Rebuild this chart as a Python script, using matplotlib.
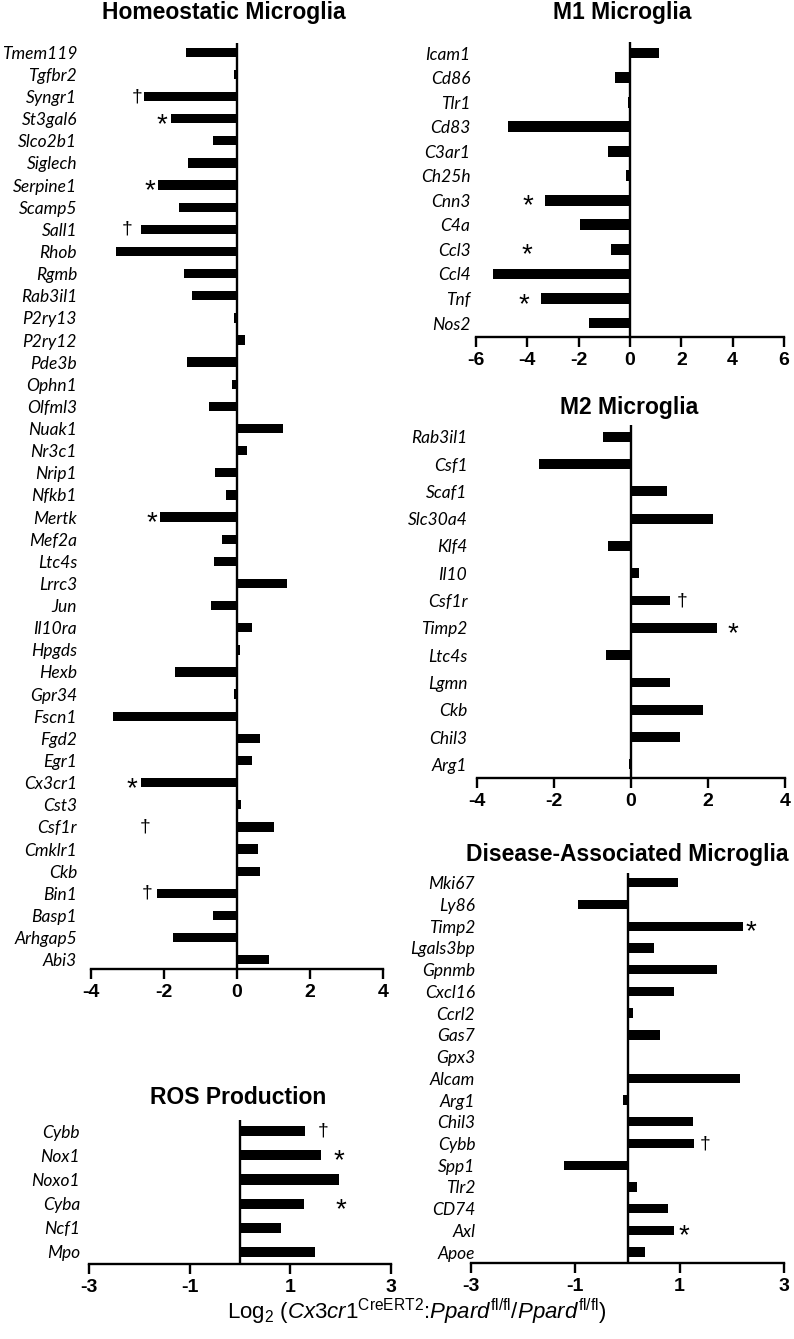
import matplotlib
matplotlib.use("Agg")
import matplotlib.pyplot as plt
import numpy as np

plt.rcParams["axes.unicode_minus"] = False
plt.rcParams["mathtext.fontset"] = "custom"
plt.rcParams["mathtext.rm"] = "Liberation Sans"
plt.rcParams["mathtext.it"] = "Liberation Sans:italic"
plt.rcParams["mathtext.bf"] = "Liberation Sans:bold"

# ---- data (log2 fold change) ----
homeo_genes = ["Tmem119", "Tgfbr2", "Syngr1", "St3gal6", "Slco2b1", "Siglech", "Serpine1",
               "Scamp5", "Sall1", "Rhob", "Rgmb", "Rab3il1", "P2ry13", "P2ry12", "Pde3b",
               "Ophn1", "Olfml3", "Nuak1", "Nr3c1", "Nrip1", "Nfkb1", "Mertk", "Mef2a",
               "Ltc4s", "Lrrc3", "Jun", "Il10ra", "Hpgds", "Hexb", "Gpr34", "Fscn1", "Fgd2",
               "Egr1", "Cx3cr1", "Cst3", "Csf1r", "Cmklr1", "Ckb", "Bin1", "Basp1",
               "Arhgap5", "Abi3"]
homeo_vals = [-1.39, -0.09, -2.56, -1.80, -0.67, -1.33, -2.16,
              -1.59, -2.64, -3.32, -1.45, -1.23, -0.09, 0.21, -1.36,
              -0.15, -0.77, 1.27, 0.27, -0.60, -0.31, -2.10, -0.40,
              -0.63, 1.38, -0.72, 0.41, 0.07, -1.71, -0.07, -3.41, 0.62,
              0.41, -2.62, 0.10, 1.00, 0.58, 0.62, -2.18, -0.67,
              -1.74, 0.87]
homeo_marks = [("Syngr1", "†", -2.73), ("St3gal6", "*", -2.07), ("Serpine1", "*", -2.39),
               ("Sall1", "†", -3.0), ("Mertk", "*", -2.32), ("Cx3cr1", "*", -2.87),
               ("Csf1r", "†", -2.52), ("Bin1", "†", -2.47)]

m1_genes = ["Icam1", "Cd86", "Tlr1", "Cd83", "C3ar1", "Ch25h", "Cnn3", "C4a", "Ccl3",
            "Ccl4", "Tnf", "Nos2"]
m1_vals = [1.14, -0.58, -0.09, -4.76, -0.86, -0.14, -3.31, -1.95, -0.75, -5.32, -3.47, -1.61]
m1_marks = [("Cnn3", "*", -3.96), ("Ccl3", "*", -4.02), ("Tnf", "*", -4.12)]

m2_genes = ["Rab3il1", "Csf1", "Scaf1", "Slc30a4", "Klf4", "Il10", "Csf1r", "Timp2",
            "Ltc4s", "Lgmn", "Ckb", "Chil3", "Arg1"]
m2_vals = [-0.72, -2.38, 0.93, 2.14, -0.59, 0.22, 1.00, 2.23, -0.65, 1.00, 1.88, 1.28, -0.06]
m2_marks = [("Csf1r", "†", 1.32), ("Timp2", "*", 2.64)]

dam_genes = ["Mki67", "Ly86", "Timp2", "Lgals3bp", "Gpnmb", "Cxcl16", "Ccrl2", "Gas7",
             "Gpx3", "Alcam", "Arg1", "Chil3", "Cybb", "Spp1", "Tlr2", "CD74", "Axl", "Apoe"]
dam_vals = [0.96, -0.95, 2.21, 0.50, 1.71, 0.89, 0.10, 0.63,
            0.03, 2.16, -0.08, 1.26, 1.28, -1.21, 0.19, 0.77, 0.89, 0.33]
dam_marks = [("Timp2", "*", 2.36), ("Cybb", "†", 1.49), ("Axl", "*", 1.09)]

ros_genes = ["Cybb", "Nox1", "Noxo1", "Cyba", "Ncf1", "Mpo"]
ros_vals = [1.30, 1.60, 1.97, 1.28, 0.81, 1.49]
ros_marks = [("Cybb", "†", 1.65), ("Nox1", "*", 1.96), ("Cyba", "*", 2.0)]

W, H = 794, 1339
fig = plt.figure(figsize=(W / 100, H / 100), dpi=100)


def panel(box, genes, vals, marks, xlim, xticks, pad, bar_h, margins):
    left, top, right, bottom = box
    ax = fig.add_axes([left / W, 1 - bottom / H, (right - left) / W, (bottom - top) / H])
    y = np.arange(len(genes))
    ax.barh(y, vals, height=bar_h, color="black", zorder=2)
    ax.set_ylim(len(genes) - 1 + margins[1], -margins[0])
    ax.set_xlim(*xlim)
    ax.axvline(0, color="black", lw=1.7, zorder=3)
    for side in ["left", "right", "top"]:
        ax.spines[side].set_visible(False)
    ax.spines["bottom"].set_linewidth(1.7)
    ax.set_yticks(y)
    ax.set_yticklabels(genes, fontstyle="italic", family="Lato", fontsize=12.5)
    ax.tick_params(axis="y", length=0, pad=pad)
    ax.set_xticks(xticks)
    ax.set_xticklabels([str(t) for t in xticks], fontweight="bold",
                       family="Liberation Sans", fontsize=14)
    ax.tick_params(axis="x", direction="out", length=7, width=1.7, pad=4)
    for gene, sym, xm in marks:
        if sym == "*":
            ax.annotate(sym, (xm, genes.index(gene)), xytext=(0, -4.5),
                        textcoords="offset points", ha="center", va="center",
                        fontsize=20, family="Liberation Sans")
        else:
            ax.annotate(sym, (xm, genes.index(gene)), xytext=(0, 0),
                        textcoords="offset points", ha="center", va="center",
                        fontsize=14, family="Liberation Sans")
    return ax


panel((91, 43, 383, 969), homeo_genes, homeo_vals, homeo_marks,
      (-4, 4), [-4, -2, 0, 2, 4], 10, 0.42, (0.42, 0.42))
panel((476, 42, 784, 337), m1_genes, m1_vals, m1_marks,
      (-6, 6), [-6, -4, -2, 0, 2, 4, 6], 4, 0.44, (0.45, 0.57))
panel((477, 425, 785, 778), m2_genes, m2_vals, m2_marks,
      (-4, 4), [-4, -2, 0, 2, 4], 7, 0.36, (0.43, 0.5))
panel((471, 873, 784, 1263), dam_genes, dam_vals, dam_marks,
      (-3, 3), [-3, -1, 1, 3], -3, 0.43, (0.45, 0.5))
panel((89, 1120, 391, 1264), ros_genes, ros_vals, ros_marks,
      (-3, 3), [-3, -1, 1, 3], 6.5, 0.42, (0.46, 0.5))

title_kw = dict(ha="center", va="center", fontsize=16.5, fontweight="bold",
                family="Liberation Sans")
fig.text(224 / W, 1 - 13 / H, "Homeostatic Microglia", **title_kw)
fig.text(622 / W, 1 - 13 / H, "M1 Microglia", **title_kw)
fig.text(629 / W, 1 - 408 / H, "M2 Microglia", **title_kw)
fig.text(627 / W, 1 - 855 / H, "Disease-Associated Microglia", **title_kw)
fig.text(238 / W, 1 - 1098 / H, "ROS Production", **title_kw)

fig.text(417 / W, 1 - 1312 / H,
         r"Log$_2$ ($\mathit{Cx3cr1}^{\mathrm{CreERT2}}$:$\mathit{Ppard}^{\mathrm{fl/fl}}$"
         r"/$\mathit{Ppard}^{\mathrm{fl/fl}}$)",
         ha="center", va="center", fontsize=16, family="Liberation Sans")

fig.savefig("out.png", dpi=100)
plt.close(fig)
